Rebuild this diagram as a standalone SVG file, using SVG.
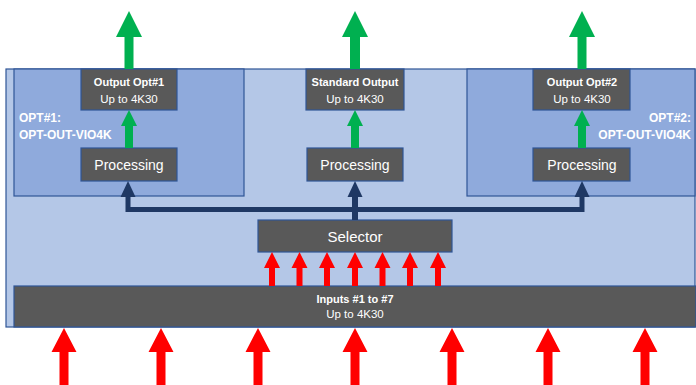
<svg xmlns="http://www.w3.org/2000/svg" width="696" height="385" viewBox="0 0 696 385">
<defs>
<style>
.outer{fill:#B4C7E7;stroke:#2F5597;stroke-width:1.2}
.opt{fill:#8FAADC;stroke:#2F5597;stroke-width:1.2}
.dark{fill:#595959;stroke:#2F5597;stroke-width:1.2}
.t{font-family:"Liberation Sans",Arial,sans-serif;fill:#FFFFFF;text-anchor:middle}
.b{font-weight:bold;font-size:11px}
.n{font-size:11.5px}
.big{font-size:14px}
.lbl{font-family:"Liberation Sans",Arial,sans-serif;fill:#FFFFFF;font-weight:bold;font-size:12px}
.green{fill:#00B050}
.red{fill:#FF0000}
.navy{fill:#1F3864}
.bus{fill:none;stroke:#1F3864;stroke-width:5}
</style>
</defs>
<rect class="outer" x="6" y="69" width="689" height="258"/>
<g id="opt1">
<rect class="opt" x="14" y="69" width="230" height="127"/>
<text class="lbl" x="19" y="122">OPT#1:</text>
<text class="lbl" x="19" y="139">OPT-OUT-VIO4K</text>
</g>
<g id="opt2">
<rect class="opt" x="467" y="69" width="228" height="127"/>
<text class="lbl" x="691" y="122" text-anchor="end">OPT#2:</text>
<text class="lbl" x="691" y="139" text-anchor="end">OPT-OUT-VIO4K</text>
</g>
<g id="out1">
<rect class="dark" x="81" y="69" width="96" height="41"/>
<text class="t b" x="129" y="86">Output Opt#1</text>
<text class="t n" x="129" y="103">Up to 4K30</text>
</g>
<g id="outstd">
<rect class="dark" x="306" y="69" width="98" height="41"/>
<text class="t b" x="355" y="86">Standard Output</text>
<text class="t n" x="355" y="103">Up to 4K30</text>
</g>
<g id="out2">
<rect class="dark" x="533" y="69" width="97" height="41"/>
<text class="t b" x="582" y="86">Output Opt#2</text>
<text class="t n" x="582" y="103">Up to 4K30</text>
</g>
<g id="proc1">
<rect class="dark" x="81" y="148" width="96" height="33"/>
<text class="t big" x="129" y="170">Processing</text>
</g>
<g id="procstd">
<rect class="dark" x="307" y="148" width="96" height="33"/>
<text class="t big" x="355" y="170">Processing</text>
</g>
<g id="proc2">
<rect class="dark" x="533" y="148" width="97" height="33"/>
<text class="t big" x="582" y="170">Processing</text>
</g>
<g id="selector">
<rect class="dark" x="258" y="220" width="194" height="32"/>
<text class="t" style="font-size:15px" x="355" y="242">Selector</text>
</g>
<g id="inputs">
<rect class="dark" x="14" y="286" width="682" height="41"/>
<text class="t b" x="355" y="303">Inputs #1 to #7</text>
<text class="t n" x="355" y="318">Up to 4K30</text>
</g>
<g id="connectors">
<!-- green outputs -->
<polygon class="green" points="129,11 142,37 133.5,37 133.5,69 124.5,69 124.5,37 116,37"/>
<polygon class="green" points="355,11 368,37 360,37 360,69 350,69 350,37 342,37"/>
<polygon class="green" points="582,11 595,37 586.5,37 586.5,69 577.5,69 577.5,37 569,37"/>
<polygon class="green" points="129,110 137,126 133,126 133,148 125,148 125,126 121,126"/>
<polygon class="green" points="355,110 363,126 359,126 359,148 351,148 351,126 347,126"/>
<polygon class="green" points="582,110 590,126 586,126 586,148 578,148 578,126 574,126"/>
<!-- navy bus -->
<path class="bus" d="M128,195 V209.5 H582 V195"/>
<rect class="navy" x="352" y="195" width="6" height="25"/>
<polygon class="navy" points="128,181 135.5,197 120.5,197"/>
<polygon class="navy" points="355,181 362.5,197 347.5,197"/>
<polygon class="navy" points="582,181 589.5,197 574.5,197"/>
<!-- red to selector -->
<g class="red">
<polygon points="272,252 280,268 275,268 275,286 269,286 269,268 264,268"/>
<polygon points="299.5,252 307.5,268 302.5,268 302.5,286 296.5,286 296.5,268 291.5,268"/>
<polygon points="327,252 335,268 330,268 330,286 324,286 324,268 319,268"/>
<polygon points="355,252 363,268 358,268 358,286 352,286 352,268 347,268"/>
<polygon points="382.5,252 390.5,268 385.5,268 385.5,286 379.5,286 379.5,268 374.5,268"/>
<polygon points="410,252 418,268 413,268 413,286 407,286 407,268 402,268"/>
<polygon points="438,252 446,268 441,268 441,286 435,286 435,268 430,268"/>
</g>
<!-- red inputs -->
<g class="red">
<polygon points="64,328 76.5,352 68.5,352 68.5,385 59.5,385 59.5,352 51.5,352"/>
<polygon points="161,328 173.5,352 165.5,352 165.5,385 156.5,385 156.5,352 148.5,352"/>
<polygon points="258,328 270.5,352 262.5,352 262.5,385 253.5,385 253.5,352 245.5,352"/>
<polygon points="355,328 367.5,352 359.5,352 359.5,385 350.5,385 350.5,352 342.5,352"/>
<polygon points="452,328 464.5,352 456.5,352 456.5,385 447.5,385 447.5,352 439.5,352"/>
<polygon points="548,328 560.5,352 552.5,352 552.5,385 543.5,385 543.5,352 535.5,352"/>
<polygon points="645,328 657.5,352 649.5,352 649.5,385 640.5,385 640.5,352 632.5,352"/>
</g>
</g>
</svg>
